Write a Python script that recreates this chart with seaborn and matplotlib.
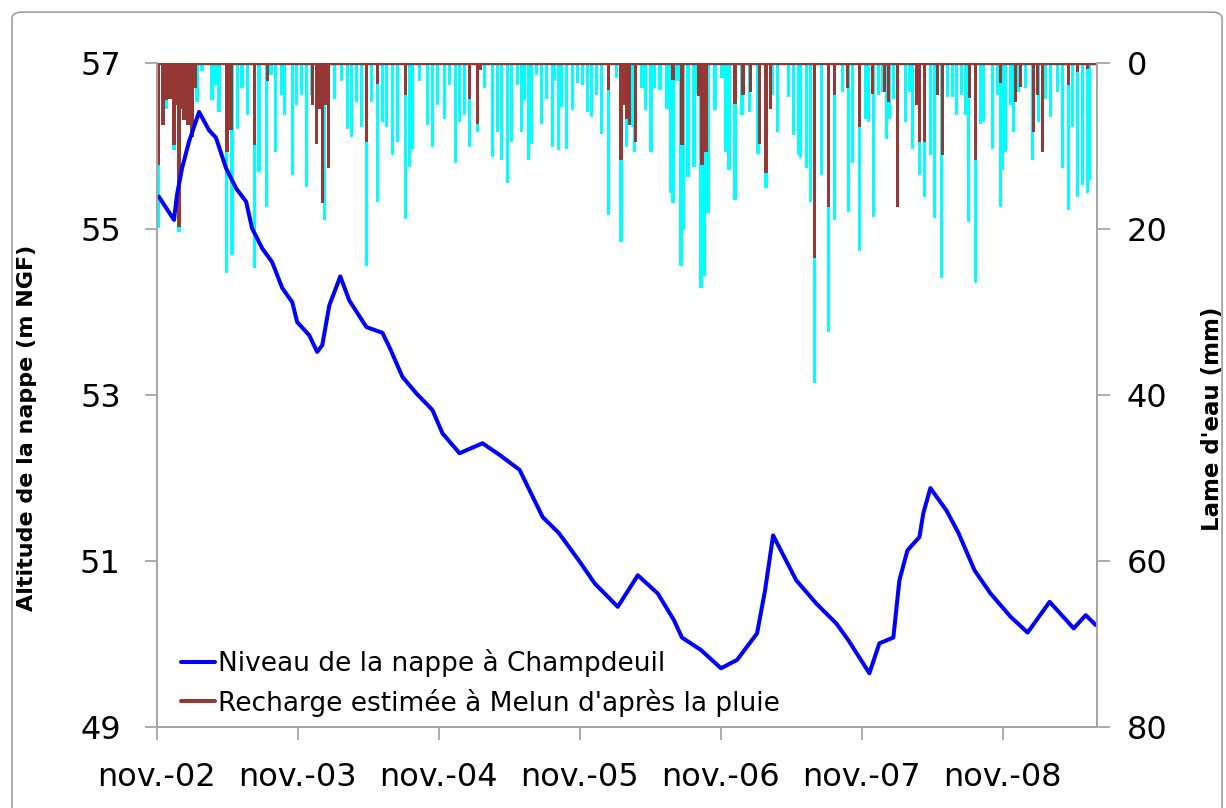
import matplotlib
matplotlib.use("Agg")
import matplotlib.pyplot as plt
import seaborn as sns
from matplotlib.lines import Line2D
from matplotlib.patches import FancyBboxPatch

# niveau de la nappe a Champdeuil (annee decimale, m NGF)
niveau_annee = [2002.847, 2002.954, 2002.975, 2003.011, 2003.060, 2003.132, 2003.203,
                2003.252, 2003.324, 2003.395, 2003.466, 2003.508, 2003.579, 2003.651,
                2003.722, 2003.793, 2003.828, 2003.914, 2003.970, 2004.006, 2004.056,
                2004.134, 2004.198, 2004.319, 2004.433, 2004.482, 2004.575, 2004.674,
                2004.788, 2004.859, 2004.980, 2005.143, 2005.264, 2005.406, 2005.570,
                2005.684, 2005.826, 2005.940, 2006.103, 2006.245, 2006.387, 2006.501,
                2006.558, 2006.693, 2006.835, 2006.949, 2007.091, 2007.148, 2007.205,
                2007.369, 2007.511, 2007.653, 2007.738, 2007.888, 2007.959, 2008.058,
                2008.101, 2008.158, 2008.243, 2008.271, 2008.321, 2008.435, 2008.520,
                2008.634, 2008.748, 2008.890, 2009.011, 2009.167, 2009.338, 2009.423,
                2009.494]
niveau_m = [55.39, 55.11, 55.41, 55.73, 56.05, 56.41, 56.19,
            56.10, 55.73, 55.49, 55.33, 55.01, 54.77, 54.60,
            54.29, 54.12, 53.88, 53.72, 53.52, 53.60, 54.08,
            54.43, 54.14, 53.82, 53.75, 53.58, 53.22, 53.02,
            52.82, 52.54, 52.30, 52.42, 52.28, 52.10, 51.53,
            51.34, 51.01, 50.73, 50.45, 50.83, 50.61, 50.29,
            50.08, 49.93, 49.71, 49.81, 50.13, 50.65, 51.31,
            50.77, 50.49, 50.25, 50.05, 49.65, 50.01, 50.08,
            50.77, 51.13, 51.29, 51.58, 51.88, 51.61, 51.34,
            50.89, 50.61, 50.33, 50.14, 50.51, 50.19, 50.35,
            50.23]

# pluie (mm)
pluie_annee = [2002.840, 2002.897, 2002.954, 2002.989, 2003.117, 2003.153, 2003.224,
               2003.252, 2003.274, 2003.324, 2003.366, 2003.402, 2003.437, 2003.473,
               2003.523, 2003.558, 2003.608, 2003.643, 2003.672, 2003.715, 2003.736,
               2003.793, 2003.821, 2003.857, 2003.892, 2003.928, 2004.020, 2004.091,
               2004.141, 2004.184, 2004.212, 2004.248, 2004.283, 2004.319, 2004.354,
               2004.397, 2004.433, 2004.461, 2004.504, 2004.539, 2004.596, 2004.625,
               2004.646, 2004.696, 2004.752, 2004.788, 2004.824, 2004.873, 2004.909,
               2004.952, 2004.980, 2005.016, 2005.051, 2005.108, 2005.158, 2005.215,
               2005.250, 2005.279, 2005.321, 2005.350, 2005.392, 2005.421, 2005.442,
               2005.470, 2005.492, 2005.527, 2005.563, 2005.598, 2005.641, 2005.655,
               2005.684, 2005.705, 2005.741, 2005.783, 2005.819, 2005.854, 2005.890,
               2005.918, 2005.954, 2005.989, 2006.039, 2006.096, 2006.125, 2006.167,
               2006.210, 2006.224, 2006.274, 2006.302, 2006.338, 2006.366, 2006.402,
               2006.452, 2006.480, 2006.494, 2006.523, 2006.551, 2006.565, 2006.601,
               2006.643, 2006.672, 2006.693, 2006.714, 2006.743, 2006.793, 2006.843,
               2006.871, 2006.892, 2006.935, 2006.985, 2007.035, 2007.098, 2007.155,
               2007.198, 2007.234, 2007.312, 2007.347, 2007.383, 2007.397, 2007.440,
               2007.468, 2007.497, 2007.546, 2007.596, 2007.639, 2007.696, 2007.738,
               2007.767, 2007.816, 2007.859, 2007.880, 2007.916, 2007.952, 2007.980,
               2008.008, 2008.030, 2008.058, 2008.143, 2008.172, 2008.193, 2008.243,
               2008.279, 2008.321, 2008.350, 2008.399, 2008.442, 2008.478, 2008.506,
               2008.542, 2008.570, 2008.591, 2008.641, 2008.677, 2008.698, 2008.762,
               2008.798, 2008.819, 2008.833, 2008.854, 2008.890, 2008.911, 2008.947,
               2008.997, 2009.046, 2009.089, 2009.139, 2009.174, 2009.224, 2009.260,
               2009.302, 2009.331, 2009.366, 2009.402, 2009.437, 2009.452]
pluie_mm = [19.9, 5.5, 10.5, 20.3, 4.7, 1.0, 4.5,
            2.6, 5.9, 25.3, 23.1, 7.9, 3.0, 6.3,
            24.7, 13.1, 17.3, 1.4, 10.7, 3.9, 6.3,
            13.5, 5.1, 3.9, 14.9, 3.9, 18.9, 4.3,
            2.2, 7.9, 8.9, 4.7, 7.7, 24.5, 4.7,
            16.7, 7.1, 7.7, 11.1, 9.5, 18.8, 12.5,
            10.3, 2.2, 7.5, 10.1, 5.1, 6.7, 2.6,
            12.1, 7.1, 6.3, 10.1, 8.3, 3.0, 11.3,
            8.3, 11.7, 14.5, 9.5, 2.6, 8.3, 4.5,
            11.7, 9.7, 1.4, 7.3, 4.3, 10.1, 2.2,
            10.5, 5.3, 10.3, 5.7, 2.4, 2.6, 5.9,
            6.5, 3.9, 8.5, 18.3, 1.8, 21.5, 10.1,
            7.7, 10.7, 3.0, 5.7, 10.7, 3.0, 3.3,
            5.5, 15.7, 16.9, 2.2, 24.5, 20.1, 13.7,
            12.5, 3.7, 27.1, 25.7, 18.1, 5.7, 1.8,
            10.7, 12.9, 16.5, 6.3, 5.9, 10.9, 15.1,
            3.9, 8.3, 4.1, 8.7, 11.1, 11.5, 12.7,
            16.7, 38.6, 13.5, 32.4, 18.9, 3.5, 17.9,
            12.1, 22.7, 6.7, 7.1, 18.5, 3.9, 3.5,
            9.1, 6.7, 4.3, 7.1, 3.5, 10.3, 13.5,
            16.1, 11.1, 18.7, 25.9, 4.1, 4.1, 6.3,
            3.9, 6.3, 19.1, 26.5, 7.3, 7.1, 10.3,
            3.9, 17.3, 12.9, 10.7, 5.1, 8.3, 3.5,
            3.0, 11.7, 7.1, 4.3, 6.5, 3.5, 12.7,
            17.7, 7.7, 16.1, 14.7, 15.7, 14.1]

# recharge estimee a Melun (mm)
recharge_annee = [2002.845, 2002.876, 2002.897, 2002.925, 2002.954, 2002.968, 2002.989,
                  2003.011, 2003.025, 2003.053, 2003.082, 2003.103, 2003.331, 2003.359,
                  2003.523, 2003.615, 2003.935, 2003.963, 2003.985, 2004.006, 2004.027,
                  2004.049, 2004.319, 2004.397, 2004.596, 2005.051, 2005.108, 2005.129,
                  2006.039, 2006.125, 2006.146, 2006.167, 2006.188, 2006.231, 2006.494,
                  2006.558, 2006.679, 2006.700, 2006.729, 2006.935, 2006.992, 2007.042,
                  2007.106, 2007.155, 2007.184, 2007.497, 2007.596, 2007.639, 2007.731,
                  2007.816, 2007.909, 2007.994, 2008.023, 2008.087, 2008.222, 2008.243,
                  2008.279, 2008.371, 2008.407, 2008.598, 2008.641, 2008.819, 2008.925,
                  2008.961, 2009.053, 2009.082, 2009.117, 2009.302, 2009.366, 2009.437]
recharge_mm = [12.3, 7.5, 4.5, 4.3, 9.9, 5.0, 19.7,
               5.5, 6.9, 7.5, 8.9, 3.0, 10.7, 8.1,
               9.9, 2.2, 5.0, 9.7, 5.5, 16.9, 5.0,
               12.7, 9.5, 2.5, 3.8, 4.3, 7.4, 0.8,
               3.3, 11.7, 5.0, 6.7, 7.5, 9.5, 2.0,
               9.9, 4.0, 12.3, 10.7, 4.9, 3.9, 3.5,
               9.7, 13.3, 5.5, 23.5, 17.3, 3.9, 3.0,
               7.7, 3.7, 3.5, 4.7, 17.3, 5.0, 9.5,
               9.5, 3.9, 11.1, 4.2, 11.7, 2.4, 4.7,
               2.9, 8.3, 3.9, 10.7, 2.7, 1.1, 0.7]

x_ticks = [2002.833, 2003.833, 2004.833, 2005.833, 2006.833, 2007.833, 2008.833]
x_labels = ["nov.-02", "nov.-03", "nov.-04", "nov.-05", "nov.-06", "nov.-07", "nov.-08"]

bleu = "#0000FF"
cyan = "#00FFFF"
brun = "#953735"
gris = "#A6A6A6"

sns.set_style("white")
plt.rcParams["font.family"] = ["DejaVu Sans"]
plt.rcParams["text.color"] = "black"
plt.rcParams["axes.labelcolor"] = "black"

fig = plt.figure(figsize=(12.26, 8.08), dpi=100)
ax = fig.add_axes([0.128, 0.100, 0.767, 0.822])
ax2 = ax.twinx()

# barres pluie + recharge sur l'axe droit (inverse)
ax2.bar(pluie_annee, pluie_mm, width=0.023, color=cyan, linewidth=0)
ax2.bar(recharge_annee, recharge_mm, width=0.023, color=brun, linewidth=0)
ax2.axhline(0, color=brun, lw=2.5)
ax2.set_ylim(80, 0)
ax2.set_yticks([0, 20, 40, 60, 80])

# courbe du niveau au-dessus des barres
ax.set_zorder(ax2.get_zorder() + 1)
ax.patch.set_visible(False)
sns.lineplot(x=niveau_annee, y=niveau_m, ax=ax, color=bleu, lw=2.9)
ax.set_ylim(49, 57)
ax.set_yticks([49, 51, 53, 55, 57])
ax.set_xlim(2002.833, 2009.505)
ax.set_xticks(x_ticks)
ax.set_xticklabels(x_labels)

for a in (ax, ax2):
    a.spines["top"].set_visible(False)
    for s in ("left", "right", "bottom"):
        a.spines[s].set_color(gris)
        a.spines[s].set_linewidth(1.3)
    a.tick_params(colors=gris, labelcolor="black", length=9, width=1.3, direction="out")

ax.tick_params(axis="y", labelsize=23, pad=17, left=True)
ax.tick_params(axis="x", labelsize=23, pad=16, bottom=True)
ax2.tick_params(axis="y", labelsize=23, pad=12, right=True)

ax.set_ylabel("Altitude de la nappe (m NGF)", fontsize=16, fontweight="bold", color="black")
ax.yaxis.set_label_coords(-0.128, 0.45)
ax2.set_ylabel("Lame d'eau (mm)", fontsize=16.5, fontweight="bold", color="black")
ax2.yaxis.set_label_coords(1.110, 0.465)

handles = [Line2D([], [], color=bleu, lw=2.9), Line2D([], [], color=brun, lw=2.9)]
ax.legend(handles, ["Niveau de la nappe à Champdeuil",
                    "Recharge estimée à Melun d'après la pluie"],
          loc="lower left", bbox_to_anchor=(0.006, -0.012), frameon=False, fontsize=19,
          handlelength=1.3, handletextpad=0.1, labelspacing=0.45, borderaxespad=0.3,
          labelcolor="black")

cadre = FancyBboxPatch((0.0098, -0.05), 0.987, 1.035, boxstyle="round,pad=0,rounding_size=0.008",
                       transform=fig.transFigure, fill=False, ec="#A0A0A0", lw=1.2)
fig.patches.append(cadre)

fig.savefig("out.png", dpi=100)
